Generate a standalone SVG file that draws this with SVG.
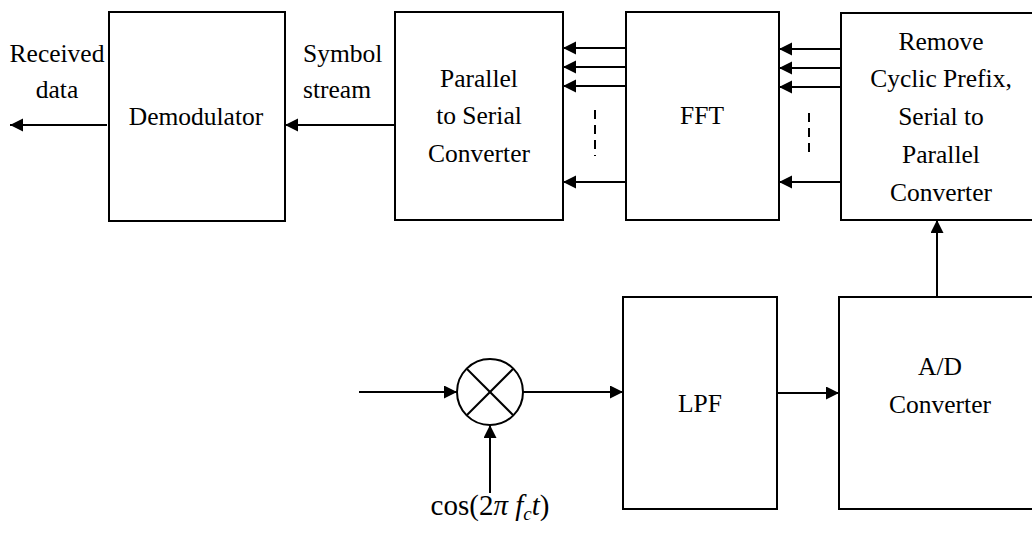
<svg xmlns="http://www.w3.org/2000/svg" width="1032" height="537" viewBox="0 0 1032 537">
<defs>
<marker id="ah" markerUnits="userSpaceOnUse" markerWidth="14" markerHeight="14" refX="13" refY="6.5" orient="auto">
<path d="M0,0 L13,6.5 L0,13 z" fill="#000"/>
</marker>
<style>
.box{fill:#fff;stroke:#000;stroke-width:2}
.ln{fill:none;stroke:#000;stroke-width:2}
.ar{fill:none;stroke:#000;stroke-width:2;marker-end:url(#ah)}
.dash{fill:none;stroke:#000;stroke-width:2;stroke-dasharray:9 6}
text{font-family:"Liberation Serif","Times New Roman",serif;font-size:25.5px;fill:#000}
.c{text-anchor:middle}
</style>
</defs>
<rect width="1032" height="537" fill="#fff"/>
<g id="demodulator">
<rect class="box" x="109" y="12" width="176" height="209"/>
<text class="c" x="196" y="125">Demodulator</text>
</g>
<g id="p2s">
<rect class="box" x="395" y="12" width="168" height="208"/>
<text class="c" x="479" y="87">Parallel</text>
<text class="c" x="479" y="124">to Serial</text>
<text class="c" x="479" y="162">Converter</text>
</g>
<g id="fft">
<rect class="box" x="626" y="12" width="153" height="208"/>
<text class="c" x="702" y="124">FFT</text>
</g>
<g id="removecp">
<rect class="box" x="841" y="13" width="200" height="207"/>
<text class="c" x="941" y="50">Remove</text>
<text class="c" x="941" y="87">Cyclic Prefix,</text>
<text class="c" x="941" y="125">Serial to</text>
<text class="c" x="941" y="163">Parallel</text>
<text class="c" x="941" y="201">Converter</text>
</g>
<g id="lpf">
<rect class="box" x="623" y="297" width="154" height="212"/>
<text class="c" x="700" y="412">LPF</text>
</g>
<g id="adc">
<rect class="box" x="839" y="297" width="200" height="212"/>
<text class="c" x="940" y="375">A/D</text>
<text class="c" x="940" y="413">Converter</text>
</g>
<g id="mixer">
<circle class="ln" cx="490" cy="392" r="33"/>
<line class="ln" x1="467" y1="369" x2="513" y2="415"/>
<line class="ln" x1="513" y1="369" x2="467" y2="415"/>
</g>
<g id="labels">
<text class="c" x="57" y="62">Received</text>
<text class="c" x="57" y="98">data</text>
<text x="303" y="62">Symbol</text>
<text x="303" y="98">stream</text>
<text class="c" x="490" y="515" style="font-size:29px">cos(2<tspan font-style="italic">π</tspan> <tspan font-style="italic">f</tspan><tspan font-style="italic" font-size="19" dy="5">c</tspan><tspan font-style="italic" dy="-5">t</tspan>)</text>
</g>
<g id="connectors">
<line class="ar" x1="107" y1="125" x2="10" y2="125"/>
<line class="ar" x1="395" y1="125" x2="285" y2="125"/>
<line class="ar" x1="626" y1="48" x2="563" y2="48"/>
<line class="ar" x1="626" y1="67" x2="563" y2="67"/>
<line class="ar" x1="626" y1="86" x2="563" y2="86"/>
<line class="ar" x1="626" y1="182" x2="563" y2="182"/>
<line class="dash" x1="595" y1="110" x2="595" y2="156"/>
<line class="ar" x1="841" y1="49" x2="779" y2="49"/>
<line class="ar" x1="841" y1="68" x2="779" y2="68"/>
<line class="ar" x1="841" y1="87" x2="779" y2="87"/>
<line class="ar" x1="841" y1="182" x2="779" y2="182"/>
<line class="dash" x1="809" y1="113" x2="809" y2="158"/>
<line class="ar" x1="937" y1="297" x2="937" y2="220"/>
<line class="ar" x1="359" y1="392" x2="457" y2="392"/>
<line class="ar" x1="523" y1="392" x2="623" y2="392"/>
<line class="ar" x1="777" y1="393" x2="839" y2="393"/>
<line class="ar" x1="490" y1="493" x2="490" y2="425"/>
</g>
</svg>
